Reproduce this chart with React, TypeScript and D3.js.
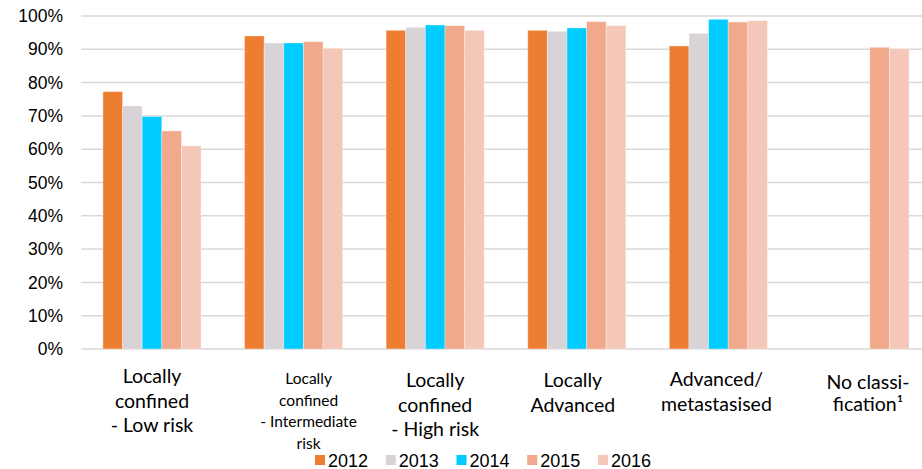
import React from "react";
import * as d3 from "d3";

const categories = ["g1", "g2", "g3", "g4", "g5", "g6"];
const categoryLabels: string[][] = [
  ["Locally", "confined", "- Low risk"],
  ["Locally", "confined", "- Intermediate", "risk"],
  ["Locally", "confined", "- High risk"],
  ["Locally", "Advanced"],
  ["Advanced/", "metastasised"],
  ["No classi-", "fication\u00B9"],
];
const years = ["2012", "2013", "2014", "2015", "2016"];
const v2012: (number | null)[] = [77.3, 94.0, 95.7, 95.7, 91.0, null];
const v2013: (number | null)[] = [73.0, 91.9, 96.6, 95.4, 94.8, null];
const v2014: (number | null)[] = [69.8, 91.9, 97.3, 96.4, 99.0, null];
const v2015: (number | null)[] = [65.5, 92.3, 97.1, 98.3, 98.2, 90.6];
const v2016: (number | null)[] = [61.0, 90.3, 95.7, 97.1, 98.6, 90.2];
const series = [v2012, v2013, v2014, v2015, v2016];
const colors = ["#ED7D31", "#D7D3D7", "#00CCFF", "#F0A98A", "#F4C7B8"];
const yTicks = [0, 10, 20, 30, 40, 50, 60, 70, 80, 90, 100];

export default function App() {
  const W = 922;
  const H = 469;
  const left = 81.2;
  const right = 930.8;
  const y = d3.scaleLinear().domain([0, 100]).range([349, 16]);
  const x0 = d3.scaleBand<string>().domain(categories).range([left, right]).padding(0);
  const groupW = x0.bandwidth() * 0.693;
  const x1 = d3.scaleBand<string>().domain(years).range([0, groupW]).padding(0);

  // label font sizes / offsets per category
  const labelSize = [19.5, 15.5, 19.5, 19.5, 19.5, 19.5];
  const labelLH = [24.5, 21.5, 24.5, 24.5, 24.5, 22];
  const labelTop = [383, 384, 387, 387, 386, 389];
  const labelDx = [0, 15, 0, -4, -2, 8];

  const legendX = d3.scaleLinear().domain([0, 4]).range([315, 598]);

  return (
    <svg width={W} height={H} style={{ position: "absolute", left: 0, top: 0 }}>
      <rect x={0} y={0} width={W} height={H} fill="#fff" />
      {yTicks.map((t) => (
        <g key={t}>
          <line x1={left} x2={W} y1={y(t)} y2={y(t)} stroke="#D9D9D9" strokeWidth={1.5} />
          <text
            x={63}
            y={y(t)}
            dy="0.35em"
            textAnchor="end"
            fontFamily="'Liberation Sans', Arial, sans-serif"
            fontSize={17.5}
            fill="#000"
          >
            {t}%
          </text>
        </g>
      ))}
      {categories.map((c, ci) => {
        const gx = (x0(c) as number) + x0.bandwidth() / 2 - groupW / 2;
        return (
          <g key={c}>
            {series.map((s, si) => {
              const v = s[ci];
              if (v == null) return null;
              return (
                <rect
                  key={si}
                  x={gx + (x1(years[si]) as number)}
                  y={y(v)}
                  width={x1.bandwidth()}
                  height={y(0) - y(v)}
                  fill={colors[si]}
                  stroke="#fff"
                  strokeOpacity={0.35}
                  strokeWidth={1}
                />
              );
            })}
          </g>
        );
      })}
      {categories.map((c, ci) => {
        const cx = (x0(c) as number) + x0.bandwidth() / 2 + labelDx[ci];
        return (
          <text
            key={c}
            textAnchor="middle"
            fontFamily="Lato, 'Open Sans', sans-serif"
            fontSize={labelSize[ci]}
            fill="#000"
          >
            {categoryLabels[ci].map((l, li) => (
              <tspan key={li} x={cx} y={labelTop[ci] + li * labelLH[ci]}>
                {l}
              </tspan>
            ))}
          </text>
        );
      })}
      {years.map((yr, i) => (
        <g key={yr}>
          <rect x={legendX(i)} y={455} width={10} height={10} fill={colors[i]} />
          <text
            x={legendX(i) + 13}
            y={466.5}
            fontFamily="'Liberation Sans', Arial, sans-serif"
            fontSize={18}
            fill="#000"
          >
            {yr}
          </text>
        </g>
      ))}
    </svg>
  );
}
